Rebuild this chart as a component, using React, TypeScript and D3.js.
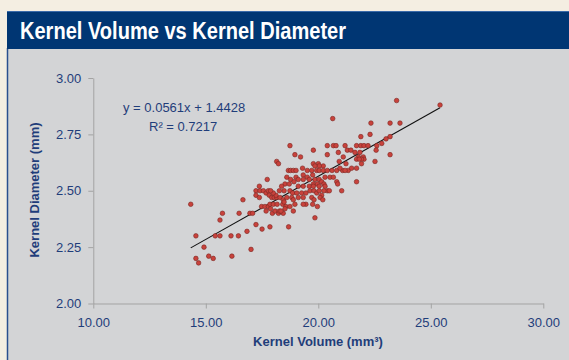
import { useEffect, useRef } from 'react'
import * as d3 from 'd3'

const title = 'Kernel Volume vs Kernel Diameter'
const xLabel = 'Kernel Volume (mm³)'
const yLabel = 'Kernel Diameter (mm)'
const xTicks = [10, 15, 20, 25, 30]
const yTicks = [2.0, 2.25, 2.5, 2.75, 3.0]
const slope = 0.0561
const intercept = 1.4428
const eqLines = ['y = 0.0561x + 1.4428', 'R² = 0.7217']

// kernel volume (mm³)
const volume = [
  14.33, 14.56, 14.56, 14.68, 14.92, 15.13, 15.33, 15.42, 15.63, 15.63, 15.74, 16.12, 16.16, 16.45, 16.48,
  16.65, 16.83, 17.01, 16.96, 17.08, 17.23, 17.5, 17.85, 17.38, 17.23, 17.41, 17.23, 17.38, 17.56, 17.68,
  17.78, 17.82, 17.93, 18.04, 18.15, 17.48, 17.63, 17.78, 17.85, 17.68, 17.88, 17.96, 18.08, 18.23, 17.73,
  20.64, 18.74, 20.4, 20.67, 20.79, 21.19, 18.96, 19.21, 19.78, 20.4, 20.89, 21.29, 21.45, 18.15, 18.23,
  19.78, 20.0, 20.22, 20.04, 19.85, 18.67, 18.77, 18.89, 19.01, 19.3, 19.51, 19.71, 19.93, 20.04, 20.22,
  20.4, 20.61, 20.82, 21.08, 21.33, 19.33, 19.51, 19.75, 19.33, 19.6, 19.85, 20.04, 20.3, 20.52, 20.67,
  20.82, 20.86, 18.6, 18.77, 19.01, 19.11, 18.52, 18.71, 18.92, 19.11, 19.33, 19.6, 19.78, 19.96, 20.15,
  20.25, 19.78, 20.04, 20.3, 20.4, 21.04, 18.37, 18.48, 18.27, 18.12, 18.0, 17.88, 18.74, 18.86, 19.04,
  19.26, 19.45, 19.63, 19.81, 19.93, 20.04, 20.15, 20.25, 20.49, 18.3, 18.44, 18.6, 18.82, 18.89, 19.11,
  19.33, 19.71, 19.81, 20.08, 20.2, 18.0, 18.17, 18.42, 18.56, 18.74, 18.96, 19.45, 19.75, 19.96, 18.27,
  18.52, 18.89, 19.33, 18.44, 19.85, 18.48, 18.34, 18.68, 23.48, 25.41, 22.34, 23.19, 23.63, 21.89, 22.3,
  23.19, 23.01, 22.82, 22.6, 21.7, 21.89, 22.03, 22.21, 22.57, 21.85, 21.63, 22.0, 21.78, 21.7, 23.19,
  22.03, 21.92, 21.82, 22.52, 21.92, 21.48, 21.7, 21.7, 21.11, 21.23, 20.93, 20.96, 21.19,
]

// kernel diameter (mm)
const diameter = [
  2.44, 2.3, 2.2, 2.18, 2.25, 2.21, 2.2, 2.3, 2.3, 2.37, 2.4, 2.3, 2.21, 2.3, 2.4,
  2.46, 2.32, 2.24, 2.4, 2.4, 2.35, 2.33, 2.34, 2.52, 2.5, 2.5, 2.48, 2.47, 2.5, 2.49,
  2.5, 2.48, 2.47, 2.47, 2.47, 2.43, 2.43, 2.43, 2.44, 2.41, 2.42, 2.4, 2.41, 2.4, 2.55,
  2.82, 2.7, 2.7, 2.7, 2.7, 2.7, 2.66, 2.65, 2.68, 2.66, 2.67, 2.68, 2.68, 2.63, 2.62,
  2.62, 2.62, 2.61, 2.61, 2.61, 2.59, 2.59, 2.59, 2.59, 2.6, 2.59, 2.59, 2.59, 2.59, 2.59,
  2.59, 2.59, 2.59, 2.59, 2.59, 2.57, 2.56, 2.57, 2.55, 2.55, 2.55, 2.55, 2.56, 2.56, 2.56,
  2.54, 2.53, 2.56, 2.55, 2.56, 2.55, 2.53, 2.53, 2.54, 2.52, 2.52, 2.52, 2.53, 2.53, 2.54,
  2.53, 2.52, 2.52, 2.52, 2.5, 2.5, 2.52, 2.5, 2.5, 2.48, 2.49, 2.5, 2.5, 2.49, 2.49,
  2.49, 2.49, 2.5, 2.5, 2.49, 2.5, 2.48, 2.5, 2.5, 2.47, 2.46, 2.47, 2.47, 2.46, 2.47,
  2.47, 2.47, 2.46, 2.47, 2.46, 2.44, 2.44, 2.44, 2.43, 2.43, 2.44, 2.44, 2.44, 2.43, 2.41,
  2.42, 2.41, 2.44, 2.4, 2.38, 2.45, 2.41, 2.34, 2.9, 2.88, 2.8, 2.8, 2.8, 2.74, 2.75,
  2.74, 2.73, 2.71, 2.7, 2.7, 2.7, 2.7, 2.7, 2.68, 2.67, 2.67, 2.65, 2.65, 2.64, 2.66,
  2.64, 2.64, 2.64, 2.63, 2.62, 2.6, 2.6, 2.54, 2.65, 2.62, 2.63, 2.6, 2.59,
]

const W = 569
const H = 360
const navy = '#1f3d7a'

export default function App() {
  const svgRef = useRef<SVGSVGElement>(null)

  useEffect(() => {
    if (!svgRef.current) return
    const svg = d3.select(svgRef.current)
    svg.selectAll('*').remove()

    // page background and panels
    svg.append('rect').attr('width', W).attr('height', H).attr('fill', '#f4eee2')
    svg.append('rect').attr('x', 7).attr('y', 48).attr('width', W - 7).attr('height', H - 48).attr('fill', '#d3d4d6')
    svg.append('line').attr('x1', 7.5).attr('x2', 7.5).attr('y1', 48).attr('y2', H).attr('stroke', '#2a4f8f').attr('stroke-width', 1.5)
    svg.append('rect').attr('x', 7).attr('y', 11).attr('width', W - 7).attr('height', 38).attr('fill', '#003673')
    svg.append('line').attr('x1', 7).attr('x2', W).attr('y1', 11.5).attr('y2', 11.5).attr('stroke', '#3a6aa8').attr('stroke-width', 1)

    svg
      .append('text')
      .attr('x', 20)
      .attr('y', 39)
      .attr('textLength', 326)
      .attr('lengthAdjust', 'spacingAndGlyphs')
      .style('font-family', 'Liberation Sans Narrow, Liberation Sans, Arial, sans-serif')
      .style('font-size', '23px')
      .style('font-weight', '700')
      .style('fill', '#ffffff')
      .text(title)

    const x = d3.scaleLinear().domain([10, 30]).range([93.3, 543.3])
    const y = d3.scaleLinear().domain([2, 3]).range([303.5, 78])

    const font = 'Liberation Sans, Arial, sans-serif'

    const xAxis = svg
      .append('g')
      .attr('transform', `translate(0,${y(2)})`)
      .call(d3.axisBottom(x).tickValues(xTicks).tickSize(5).tickSizeOuter(0).tickFormat(d3.format('.2f')))
    xAxis.select('.domain').attr('stroke', '#a3a3a3')
    xAxis.selectAll('.tick line').attr('stroke', '#a3a3a3')
    xAxis
      .selectAll('.tick text')
      .attr('dy', null)
      .attr('y', 23)
      .style('font-family', font)
      .style('font-size', '13px')
      .style('fill', navy)

    const yAxis = svg
      .append('g')
      .attr('transform', `translate(${x(10)},0)`)
      .call(d3.axisLeft(y).tickValues(yTicks).tickSize(5).tickSizeOuter(0).tickFormat(d3.format('.2f')))
    yAxis.select('.domain').attr('stroke', '#a3a3a3')
    yAxis.selectAll('.tick line').attr('stroke', '#a3a3a3')
    yAxis
      .selectAll('.tick text')
      .attr('x', -12)
      .style('font-family', font)
      .style('font-size', '13px')
      .style('fill', navy)

    svg
      .append('text')
      .attr('x', 318)
      .attr('y', 346)
      .attr('text-anchor', 'middle')
      .style('font-family', font)
      .style('font-size', '13px')
      .style('font-weight', '700')
      .style('fill', navy)
      .text(xLabel)

    svg
      .append('text')
      .attr('transform', `translate(39,190) rotate(-90)`)
      .attr('text-anchor', 'middle')
      .style('font-family', font)
      .style('font-size', '13px')
      .style('font-weight', '700')
      .style('fill', navy)
      .text(yLabel)

    // trend line
    const xMin = d3.min(volume)!
    const xMax = d3.max(volume)!
    svg
      .append('line')
      .attr('x1', x(xMin))
      .attr('y1', y(slope * xMin + intercept))
      .attr('x2', x(xMax))
      .attr('y2', y(slope * xMax + intercept))
      .attr('stroke', '#111')
      .attr('stroke-width', 1.1)

    const pts = volume.map((v, i) => ({ v, d: diameter[i] }))
    svg
      .append('g')
      .selectAll('circle')
      .data(pts)
      .enter()
      .append('circle')
      .attr('cx', (p) => x(p.v))
      .attr('cy', (p) => y(p.d))
      .attr('r', 2.3)
      .attr('fill', '#c8423c')
      .attr('stroke', '#7a2622')
      .attr('stroke-width', 0.6)

    svg
      .append('g')
      .selectAll('text')
      .data(eqLines)
      .enter()
      .append('text')
      .attr('x', (_, i) => (i === 0 ? 123 : 149))
      .attr('y', (_, i) => 112 + i * 19)
      .style('font-family', font)
      .style('font-size', '13px')
      .style('fill', navy)
      .text((t) => t)
  }, [])

  return (
    <div style={{ position: 'absolute', left: 0, top: 0 }}>
      <svg ref={svgRef} width={W} height={H} style={{ display: 'block' }} />
    </div>
  )
}
